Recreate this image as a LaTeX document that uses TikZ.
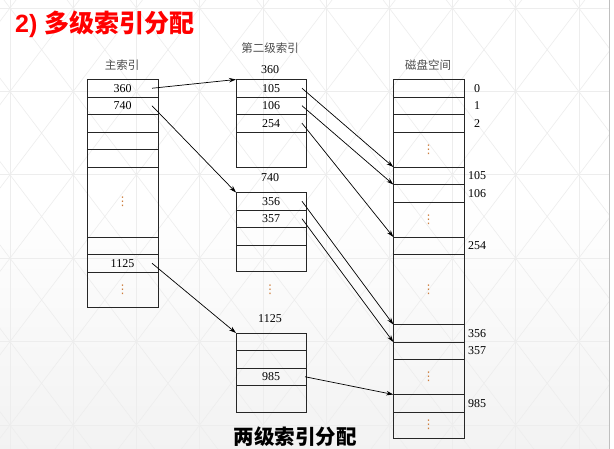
\documentclass[tikz,border=0pt]{standalone}
\usepackage{fontspec}
\usetikzlibrary{arrows.meta}
\setmainfont{Liberation Serif}
\newfontfamily\cjk{Noto Sans CJK SC}
\newfontfamily\latinsans{Liberation Sans}
\newfontfamily\symfont{DejaVu Sans}
\definecolor{dotorange}{RGB}{205,125,60}
\definecolor{titlered}{RGB}{255,0,0}

\begin{document}
\begin{tikzpicture}[x=1pt,y=-1pt,
  num/.style={font=\fontsize{12}{14}\selectfont, inner sep=0pt},
  hdr/.style={font=\cjk\fontsize{11.5}{13}\selectfont, text=black!70, inner sep=0pt},
  cell/.style={draw=black!85, line width=0.8pt, anchor=north west, inner sep=0pt,
    outer sep=0pt, minimum height=#1},
  cell/.default=17.5pt,
  val/.style={label={[num]center:#1}},
  more/.style={label={[vd]center:⋮}},
  wm/.style={minimum width=71pt},
  wb/.style={minimum width=70pt},
  wd/.style={minimum width=70.7pt},
  vd/.style={text=dotorange, font=\symfont\fontsize{12}{13}\selectfont, inner sep=0pt},
  arr/.style={draw=black, line width=0.7pt, -{Stealth[length=7pt,width=4.5pt]}},
  gridline/.style={draw=black!7, line width=0.6pt}]

% page and slide background
\useasboundingbox (0,0) rectangle (614,449);
\fill[white] (0,0) rectangle (614,449);
\shade[top color=white, bottom color=black!5] (0,200) rectangle (609,449);
\begin{scope}
  \clip (0,0) rectangle (609,449);
  \foreach \i in {-1,...,9}
    \draw[gridline] ({10+63.2*\i},0) -- ({10+63.2*\i},449);
  \foreach \j in {0,...,5}
    \draw[gridline] (0,{8+83.4*\j}) -- (609,{8+83.4*\j});
  \foreach \i in {-1,...,9}
    \foreach \j in {-1,...,5}
      \draw[gridline] ({10+63.2*\i},{8+83.4*\j}) -- ({10+63.2*(\i+1)},{8+83.4*(\j+1)})
                      ({10+63.2*(\i+1)},{8+83.4*\j}) -- ({10+63.2*\i},{8+83.4*(\j+1)});
\end{scope}
\draw[black!25, line width=0.6pt] (609,0) -- (609,449);

% title
\node[anchor=west, inner sep=0pt, text=titlered] (title) at (15,24)
  {\fontsize{25}{28}\selectfont\latinsans\bfseries 2) \cjk\bfseries 多级索引分配};

% main index
\node[hdr] (hm) at (122,65) {主索引};
\node[cell, wm, val=360] (m1) at (87,79.5) {};
\node[cell, wm, val=740] (m2) at (87,97) {};
\node[cell, wm] (m3) at (87,114.5) {};
\node[cell, wm] (m4) at (87,132) {};
\node[cell, wm] (m5) at (87,149.5) {};
\node[cell=70pt, wm, more] (m6) at (87,167) {};
\node[cell, wm] (m7) at (87,237) {};
\node[cell, wm, val=1125] (m8) at (87,254.5) {};
\node[cell=35pt, wm, more] (m9) at (87,272) {};

% second-level index blocks
\node[hdr] (ha) at (270,48) {第二级索引};
\node[num] (na) at (270,70) {360};
\node[cell, wb, val=105] (a1) at (236,79.5) {};
\node[cell, wb, val=106] (a2) at (236,97) {};
\node[cell, wb, val=254] (a3) at (236,114.5) {};
\node[cell=35pt, wb] (a4) at (236,132) {};

\node[num] (nb) at (270,178) {740};
\node[cell, wb, val=356] (b1) at (236,192.5) {};
\node[cell, wb, val=357] (b2) at (236,210) {};
\node[cell, wb] (b3) at (236,227.5) {};
\node[cell=26pt, wb] (b4) at (236,245) {};

\node[vd] (vb) at (270,290) {⋮};

\node[num] (nc) at (270,319) {1125};
\node[cell, wb] (c1) at (236,333) {};
\node[cell, wb] (c2) at (236,350.5) {};
\node[cell, wb, val=985] (c3) at (236,368) {};
\node[cell=26.5pt, wb] (c4) at (236,385.5) {};

% disk space
\node[hdr] (hd) at (428,65) {磁盘空间};
\node[cell, wd] (d0) at (393.3,79.5) {};
\node[cell, wd] (d1) at (393.3,97) {};
\node[cell, wd] (d2) at (393.3,114.5) {};
\node[cell=35pt, wd, more] (dd1) at (393.3,132) {};
\node[cell, wd] (d105) at (393.3,167) {};
\node[cell, wd] (d106) at (393.3,184.5) {};
\node[cell=35pt, wd, more] (dd2) at (393.3,202) {};
\node[cell, wd] (d254) at (393.3,237) {};
\node[cell=70pt, wd, more] (dd3) at (393.3,254.5) {};
\node[cell, wd] (d356) at (393.3,324.5) {};
\node[cell, wd] (d357) at (393.3,342) {};
\node[cell=35pt, wd, more] (dd4) at (393.3,359.5) {};
\node[cell, wd] (d985) at (393.3,394.5) {};
\node[cell=26.5pt, wd, more] (dd5) at (393.3,412) {};

% block numbers beside the disk
\node[num] (l0) at ([xshift=13pt]d0.east) {0};
\node[num] (l1) at ([xshift=13pt]d1.east) {1};
\node[num] (l2) at ([xshift=13pt]d2.east) {2};
\node[num] (l105) at ([xshift=13pt]d105.east) {105};
\node[num] (l106) at ([xshift=13pt]d106.east) {106};
\node[num] (l254) at ([xshift=13pt]d254.east) {254};
\node[num] (l356) at ([xshift=13pt]d356.east) {356};
\node[num] (l357) at ([xshift=13pt]d357.east) {357};
\node[num] (l985) at ([xshift=13pt]d985.east) {985};

% pointers: main index -> second-level blocks
\draw[arr] ([xshift=-6pt]m1.east) -- (a1.north west);
\draw[arr] ([xshift=-6pt]m2.east) -- (b1.north west);
\draw[arr] ([xshift=-6pt]m8.east) -- (c1.north west);

% pointers: second-level blocks -> disk blocks
\draw[arr] ([xshift=-4pt]a1.east) -- (d105.north west);
\draw[arr] ([xshift=-4pt]a2.east) -- (d106.north west);
\draw[arr] ([xshift=-4pt]a3.east) -- (d254.north west);
\draw[arr] ([xshift=-4pt]b1.east) -- (d356.north west);
\draw[arr] ([xshift=-4pt]b2.east) -- (d357.north west);
\draw[arr] ([xshift=-1pt]c3.east) -- (d985.north west);

% caption
\node[inner sep=0pt] (cap) at (295,437) {\cjk\bfseries\fontsize{20.5}{22}\selectfont 两级索引分配};
\end{tikzpicture}
\end{document}
